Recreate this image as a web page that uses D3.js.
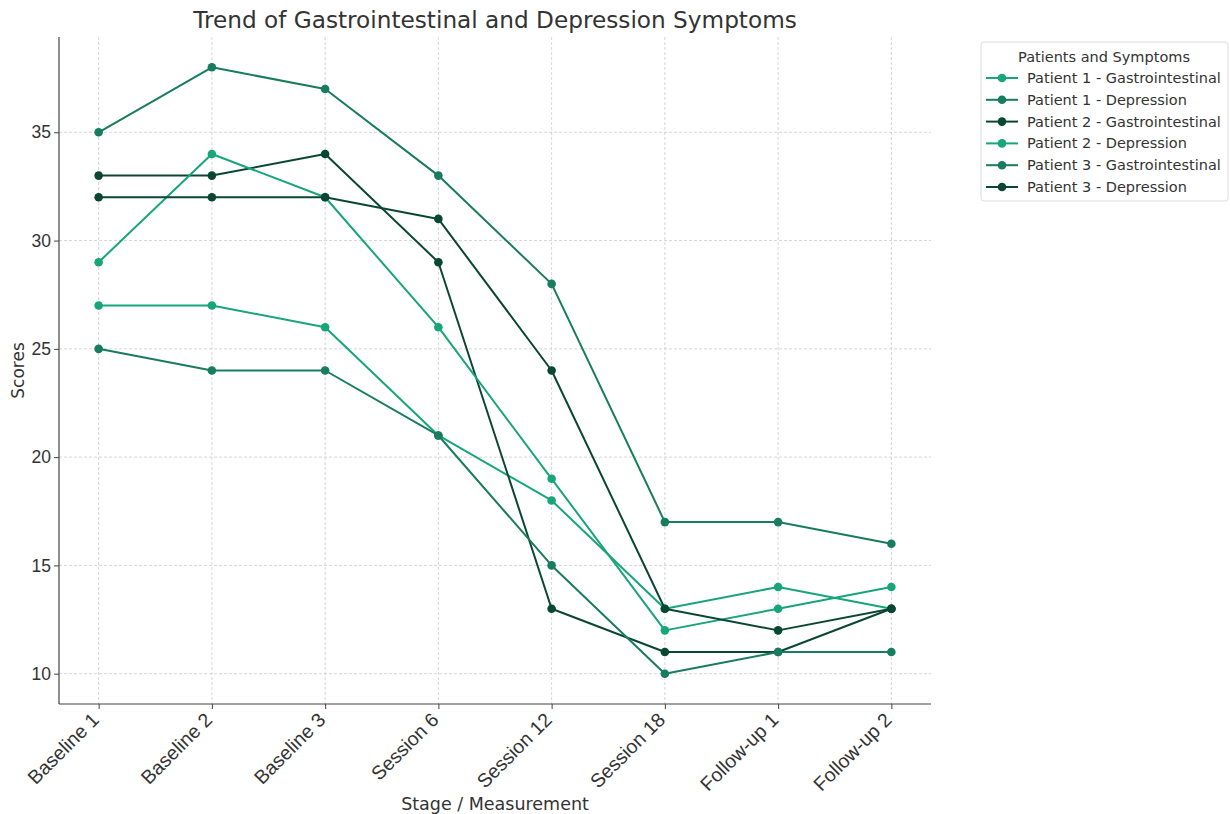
<!DOCTYPE html>
<html>
<head>
<meta charset="utf-8">
<script src="https://cdn.jsdelivr.net/npm/d3@7"></script>
<style>
  body { margin: 0; background: #fff; }
  svg { font-family: 'DejaVu Sans', sans-serif; }
</style>
</head>
<body>
<div id="chart"></div>
<script>
const stages = ['Baseline 1', 'Baseline 2', 'Baseline 3', 'Session 6', 'Session 12', 'Session 18', 'Follow-up 1', 'Follow-up 2']
const seriesNames = [
  'Patient 1 - Gastrointestinal',
  'Patient 1 - Depression',
  'Patient 2 - Gastrointestinal',
  'Patient 2 - Depression',
  'Patient 3 - Gastrointestinal',
  'Patient 3 - Depression'
]
const p1Gastro = [27, 27, 26, 21, 18, 13, 14, 13]
const p1Depression = [35, 38, 37, 33, 28, 17, 17, 16]
const p2Gastro = [33, 33, 34, 29, 13, 11, 11, 13]
const p2Depression = [29, 34, 32, 26, 19, 12, 13, 14]
const p3Gastro = [25, 24, 24, 21, 15, 10, 11, 11]
const p3Depression = [32, 32, 32, 31, 24, 13, 12, 13]
const yTicks = [10, 15, 20, 25, 30, 35]
const colors = ['#17a57a', '#187c5f', '#0a4733', '#17a57a', '#187c5f', '#0a4733']

const series = [p1Gastro, p1Depression, p2Gastro, p2Depression, p3Gastro, p3Depression]
  .map((values, i) => ({ name: seriesNames[i], color: colors[i], values }))

const width = 1230
const height = 814
const margin = { top: 37, right: 299, bottom: 110, left: 59 }
const textColor = '#333'

const svg = d3.select('#chart').append('svg')
  .attr('width', width)
  .attr('height', height)

const x = d3.scalePoint()
  .domain(stages)
  .range([margin.left, width - margin.right])
  .padding(0.35)

const y = d3.scaleLinear()
  .domain([8.6, 39.4])
  .range([height - margin.bottom, margin.top])

// grid
svg.append('g')
  .selectAll('line')
  .data(stages)
  .join('line')
  .attr('x1', d => x(d)).attr('x2', d => x(d))
  .attr('y1', margin.top).attr('y2', height - margin.bottom)
  .attr('stroke', '#ccc').attr('stroke-width', 0.8).attr('stroke-dasharray', '3,2')

svg.append('g')
  .selectAll('line')
  .data(yTicks)
  .join('line')
  .attr('x1', margin.left).attr('x2', width - margin.right)
  .attr('y1', d => y(d)).attr('y2', d => y(d))
  .attr('stroke', '#ccc').attr('stroke-width', 0.8).attr('stroke-dasharray', '3,2')

const xAxis = g => g
  .attr('transform', `translate(0,${height - margin.bottom})`)
  .call(d3.axisBottom(x).tickSizeOuter(0).tickSize(5))
  .call(g => g.select('.domain').attr('d', `M${margin.left},0H${width - margin.right}`))

const yAxis = g => g
  .attr('transform', `translate(${margin.left},0)`)
  .call(d3.axisLeft(y).tickValues(yTicks).tickSizeOuter(0).tickSize(5))
  .call(g => g.select('.domain').attr('d', `M0,${margin.top}V${height - margin.bottom}`))

const gx = svg.append('g').call(xAxis)
gx.selectAll('.tick text')
  .attr('font-size', 19.5)
  .attr('fill', textColor)
  .attr('text-anchor', 'end')
  .attr('y', 0)
  .attr('dy', 0)
  .attr('transform', 'translate(1,17) rotate(-45)')

const gy = svg.append('g').call(yAxis)
gy.selectAll('.tick text')
  .attr('font-size', 17.5)
  .attr('fill', textColor)
  .attr('x', -8)

svg.selectAll('.domain').attr('stroke', '#444').attr('stroke-width', 1.2)
svg.selectAll('.tick line').attr('stroke', '#444')

const line = d3.line()
  .x((d, i) => x(stages[i]))
  .y(d => y(d))

series.forEach(s => {
  svg.append('path')
    .datum(s.values)
    .attr('fill', 'none')
    .attr('stroke', s.color)
    .attr('stroke-width', 2)
    .attr('stroke-linejoin', 'round')
    .attr('d', line)

  svg.append('g')
    .selectAll('circle')
    .data(s.values)
    .join('circle')
    .attr('cx', (d, i) => x(stages[i]))
    .attr('cy', d => y(d))
    .attr('r', 4.3)
    .attr('fill', s.color)
})

svg.append('text')
  .attr('x', (margin.left + width - margin.right) / 2)
  .attr('y', 28)
  .attr('text-anchor', 'middle')
  .attr('font-size', 23.2)
  .attr('fill', textColor)
  .text('Trend of Gastrointestinal and Depression Symptoms')

svg.append('text')
  .attr('x', (margin.left + width - margin.right) / 2)
  .attr('y', 810)
  .attr('text-anchor', 'middle')
  .attr('font-size', 17.5)
  .attr('fill', textColor)
  .text('Stage / Measurement')

svg.append('text')
  .attr('transform', `translate(24,${(margin.top + height - margin.bottom) / 2}) rotate(-90)`)
  .attr('text-anchor', 'middle')
  .attr('font-size', 17)
  .attr('fill', textColor)
  .text('Scores')

// legend
const legend = svg.append('g').attr('transform', 'translate(981,42)')
legend.append('rect')
  .attr('width', 247).attr('height', 159)
  .attr('rx', 3)
  .attr('fill', '#fff').attr('stroke', '#ddd')

legend.append('text')
  .attr('x', 123).attr('y', 20)
  .attr('text-anchor', 'middle')
  .attr('font-size', 14.5)
  .attr('fill', textColor)
  .text('Patients and Symptoms')

const rows = legend.selectAll('g.row')
  .data(series)
  .join('g')
  .attr('class', 'row')
  .attr('transform', (d, i) => `translate(0,${36 + i * 21.8})`)

rows.append('line')
  .attr('x1', 5).attr('x2', 37)
  .attr('stroke', d => d.color).attr('stroke-width', 2)
rows.append('circle')
  .attr('cx', 21).attr('r', 4.3)
  .attr('fill', d => d.color)
rows.append('text')
  .attr('x', 46).attr('dy', '0.35em')
  .attr('font-size', 14.5)
  .attr('fill', textColor)
  .text(d => d.name)
</script>
</body>
</html>
